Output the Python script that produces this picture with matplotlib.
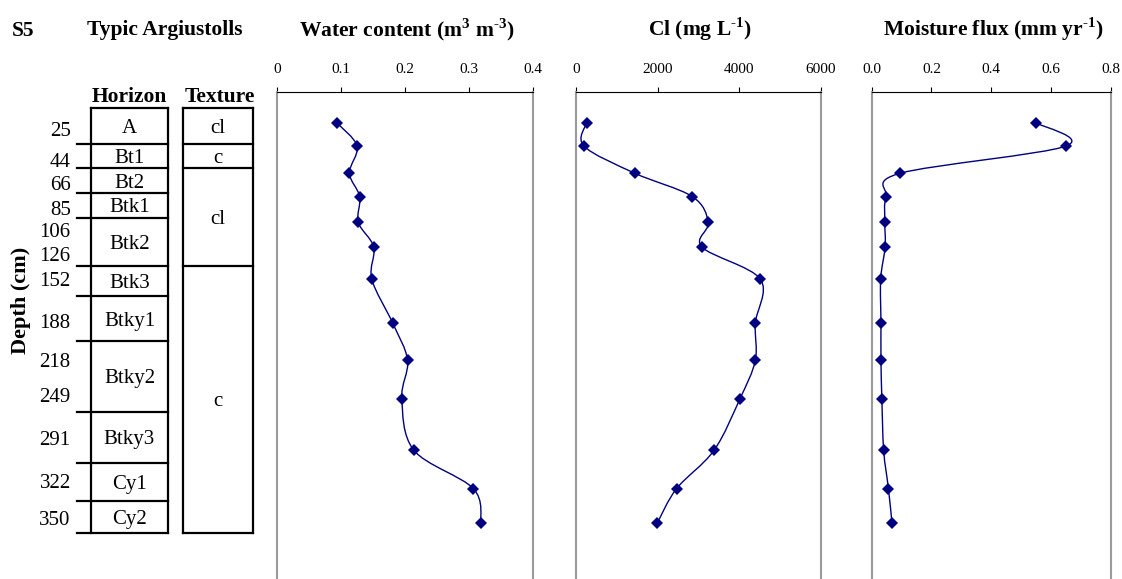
import numpy as np
import matplotlib
matplotlib.use("Agg")
import matplotlib.pyplot as plt
from matplotlib.path import Path
from matplotlib.patches import PathPatch

plt.rcParams["font.family"] = "Liberation Serif"
plt.rcParams["mathtext.fontset"] = "custom"
plt.rcParams["mathtext.rm"] = "Liberation Serif"
plt.rcParams["mathtext.bf"] = "Liberation Serif:bold"

# sample depths (cm) and measured profiles
depth = [25, 44, 66, 85, 106, 126, 152, 188, 218, 249, 291, 322, 350]
water = [0.093, 0.125, 0.113, 0.129, 0.127, 0.151, 0.148, 0.181, 0.204, 0.195, 0.214, 0.307, 0.319]
chloride = [262, 196, 1437, 2849, 3240, 3086, 4514, 4391, 4391, 4017, 3380, 2465, 1991]
flux = [0.549, 0.650, 0.096, 0.048, 0.044, 0.045, 0.030, 0.031, 0.031, 0.034, 0.040, 0.056, 0.068]

# soil description column (schematic, drawn on the depth scale)
horizons = ["A", "Bt1", "Bt2", "Btk1", "Btk2", "Btk3", "Btky1", "Btky2", "Btky3", "Cy1", "Cy2"]
horizon_bounds = [13, 42, 62, 82, 102, 141, 166, 202, 260, 301, 332, 358]
textures = ["cl", "c", "cl", "c"]
texture_bounds = [13, 42, 62, 141, 358]
label_pos = [30, 55, 74, 94, 112, 132, 152, 186, 218, 246, 281, 316, 346]

NAVY = "#000080"
W, H = 1122, 579
top_px, px_per_cm, ymax = 91.9, 1.2317, 400
bottom_px = top_px + ymax * px_per_cm
text_shift = 2.5 / px_per_cm  # nudge centred labels onto the glyph centre
HY = "\u2010"


def fig_box(x0, x1):
    return [x0 / W, 1 - bottom_px / H, (x1 - x0) / W, (bottom_px - top_px) / H]


def smooth_path(x, y):
    # Catmull-Rom style bezier through the points
    pts = np.column_stack([x, y]).astype(float)
    n = len(pts)
    verts = [pts[0]]
    codes = [Path.MOVETO]
    for i in range(n - 1):
        p0 = pts[max(i - 1, 0)]
        p1 = pts[i]
        p2 = pts[i + 1]
        p3 = pts[min(i + 2, n - 1)]
        verts += [p1 + (p2 - p0) / 6, p2 - (p3 - p1) / 6, p2]
        codes += [Path.CURVE4] * 3
    return Path(verts, codes)


fig = plt.figure(figsize=(W / 100, H / 100), dpi=100)

panels = [
    (277.3, 532.7, water, 0.4, [0, 0.1, 0.2, 0.3, 0.4], ["0", "0.1", "0.2", "0.3", "0.4"],
     r"Water content (m$^{\mathbf{3}}$ m$^{\mathbf{" + HY + "3}}$)"),
    (576, 821, chloride, 6000, [0, 2000, 4000, 6000], ["0", "2000", "4000", "6000"],
     r"Cl (mg L$^{\mathbf{" + HY + "1}}$)"),
    (871.7, 1110.7, flux, 0.8, [0, 0.2, 0.4, 0.6, 0.8], ["0.0", "0.2", "0.4", "0.6", "0.8"],
     r"Moisture flux (mm yr$^{\mathbf{" + HY + "1}}$)"),
]

for x0, x1, vals, xmax, ticks, ticklabels, title in panels:
    ax = fig.add_axes(fig_box(x0, x1))
    ax.set_xlim(0, xmax)
    ax.set_ylim(ymax, 0)
    ax.xaxis.tick_top()
    ax.set_xticks(ticks)
    ax.set_xticklabels(ticklabels)
    ax.tick_params(axis="x", direction="out", length=3.6, width=0.8, pad=8, labelsize=11)
    ax.set_yticks([])
    ax.spines["bottom"].set_visible(False)
    for side in ["left", "right"]:
        ax.spines[side].set_color("#9a9a9a")
        ax.spines[side].set_linewidth(1.5)
    ax.spines["top"].set_color("black")
    ax.spines["top"].set_linewidth(0.8)
    ax.add_patch(PathPatch(smooth_path(vals, depth), fc="none", ec=NAVY, lw=1.0))
    ax.plot(vals, depth, "D", color=NAVY, ms=6, mew=0)
    fig.text((x0 + x1) / 2 / W + 2 / W, 1 - 36 / H, title, ha="center", va="baseline",
             fontsize=15.5, fontweight="bold")

# soil profile column
ax0 = fig.add_axes(fig_box(0, 270))
ax0.set_xlim(0, 270)
ax0.set_ylim(ymax, 0)
ax0.axis("off")
lk = dict(color="black", lw=1.6, solid_capstyle="projecting")

hb = horizon_bounds
ax0.plot([91, 91], [hb[0], hb[-1]], **lk)
ax0.plot([168, 168], [hb[0], hb[-1]], **lk)
ax0.plot([91, 168], [hb[0], hb[0]], **lk)
for b in hb[1:]:
    ax0.plot([77, 168], [b, b], **lk)
for i, name in enumerate(horizons):
    ax0.text(129.5, (hb[i] + hb[i + 1]) / 2 + text_shift, name, ha="center", va="center",
             fontsize=15)

tb = texture_bounds
ax0.plot([183, 183], [tb[0], tb[-1]], **lk)
ax0.plot([253, 253], [tb[0], tb[-1]], **lk)
for b in tb:
    ax0.plot([183, 253], [b, b], **lk)
for i, name in enumerate(textures):
    ax0.text(218, (tb[i] + tb[i + 1]) / 2 + text_shift, name, ha="center", va="center",
             fontsize=15)

for d, pos in zip(depth, label_pos):
    ax0.text(70.7, pos + text_shift, str(d), ha="right", va="center", fontsize=15)

fig.text(129.5 / W, 1 - 101.5 / H, "Horizon", ha="center", va="baseline",
         fontsize=15.5, fontweight="bold")
fig.text(219.5 / W, 1 - 101.5 / H, "Texture", ha="center", va="baseline",
         fontsize=15.5, fontweight="bold")
fig.text(12 / W, 1 - 35.5 / H, "S5", ha="left", va="baseline", fontsize=15.5, fontweight="bold")
fig.text(87 / W, 1 - 35.5 / H, "Typic Argiustolls", ha="left", va="baseline",
         fontsize=15.5, fontweight="bold")
fig.text(21 / W, 1 - 300 / H, "Depth (cm)", ha="center", va="center", rotation=90,
         fontsize=16, fontweight="bold")

fig.savefig("out.png", dpi=100)
